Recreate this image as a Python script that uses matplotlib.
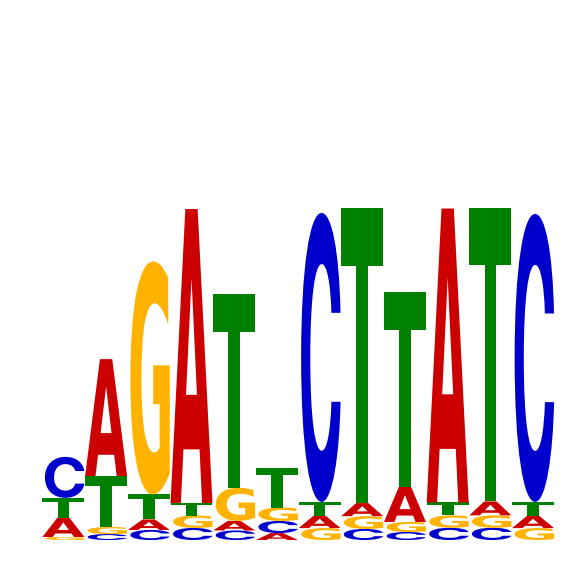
import matplotlib
matplotlib.use("Agg")
import matplotlib.pyplot as plt
from matplotlib.textpath import TextPath
from matplotlib.patches import PathPatch
from matplotlib.font_manager import FontProperties
from matplotlib.transforms import Affine2D

positions = list(range(1, 13))
letters = ["A", "C", "G", "T"]
# information content (bits) of each letter at each position
A_bits = [0.112, 0.688, 0.062, 1.729, 0.057, 0.041, 0.072, 0.077, 0.206, 1.729, 0.082, 0.072]
C_bits = [0.241, 0.035, 0.059, 0.071, 0.056, 0.071, 1.700, 0.065, 0.047, 0.072, 0.072, 1.694]
G_bits = [0.018, 0.041, 1.371, 0.073, 0.194, 0.079, 0.070, 0.075, 0.059, 0.073, 0.073, 0.070]
T_bits = [0.118, 0.300, 0.147, 0.074, 1.141, 0.235, 0.082, 1.735, 1.147, 0.076, 1.724, 0.082]
colors = {"A": "#CC0000", "C": "#0000CC", "G": "#FFB300", "T": "#008000"}

fig = plt.figure(figsize=(5.66, 5.66), dpi=100)
ax = fig.add_axes([41.9 / 566, 26 / 566, 512.4 / 566, 340 / 566])
ax.set_xlim(0.5, 12.5)
ax.set_ylim(0, 2)
ax.axis("off")

fp_main = FontProperties(family="Liberation Sans Narrow", weight="bold")
fp_c = FontProperties(family="Inter", weight="bold")
glyphs = {}
for L in letters:
    p = TextPath((0, 0), L, size=1, prop=fp_c if L == "C" else fp_main)
    v = p.vertices
    glyphs[L] = (p, v[:, 0].min(), v[:, 1].min(), v[:, 0].max() - v[:, 0].min(), v[:, 1].max() - v[:, 1].min())

width = 0.988
bits = {"A": A_bits, "C": C_bits, "G": G_bits, "T": T_bits}
for i, pos in enumerate(positions):
    col = sorted(letters, key=lambda L: bits[L][i])
    y = 0.0
    for L in col:
        h = bits[L][i]
        p, x0, y0, bw, bh = glyphs[L]
        tr = (Affine2D().translate(-x0, -y0).scale(width / bw, h / bh)
              .translate(pos - width / 2, y)) + ax.transData
        ax.add_patch(PathPatch(p, transform=tr, facecolor=colors[L], edgecolor="none", lw=0))
        y += h

fig.savefig("out.png", dpi=100)
